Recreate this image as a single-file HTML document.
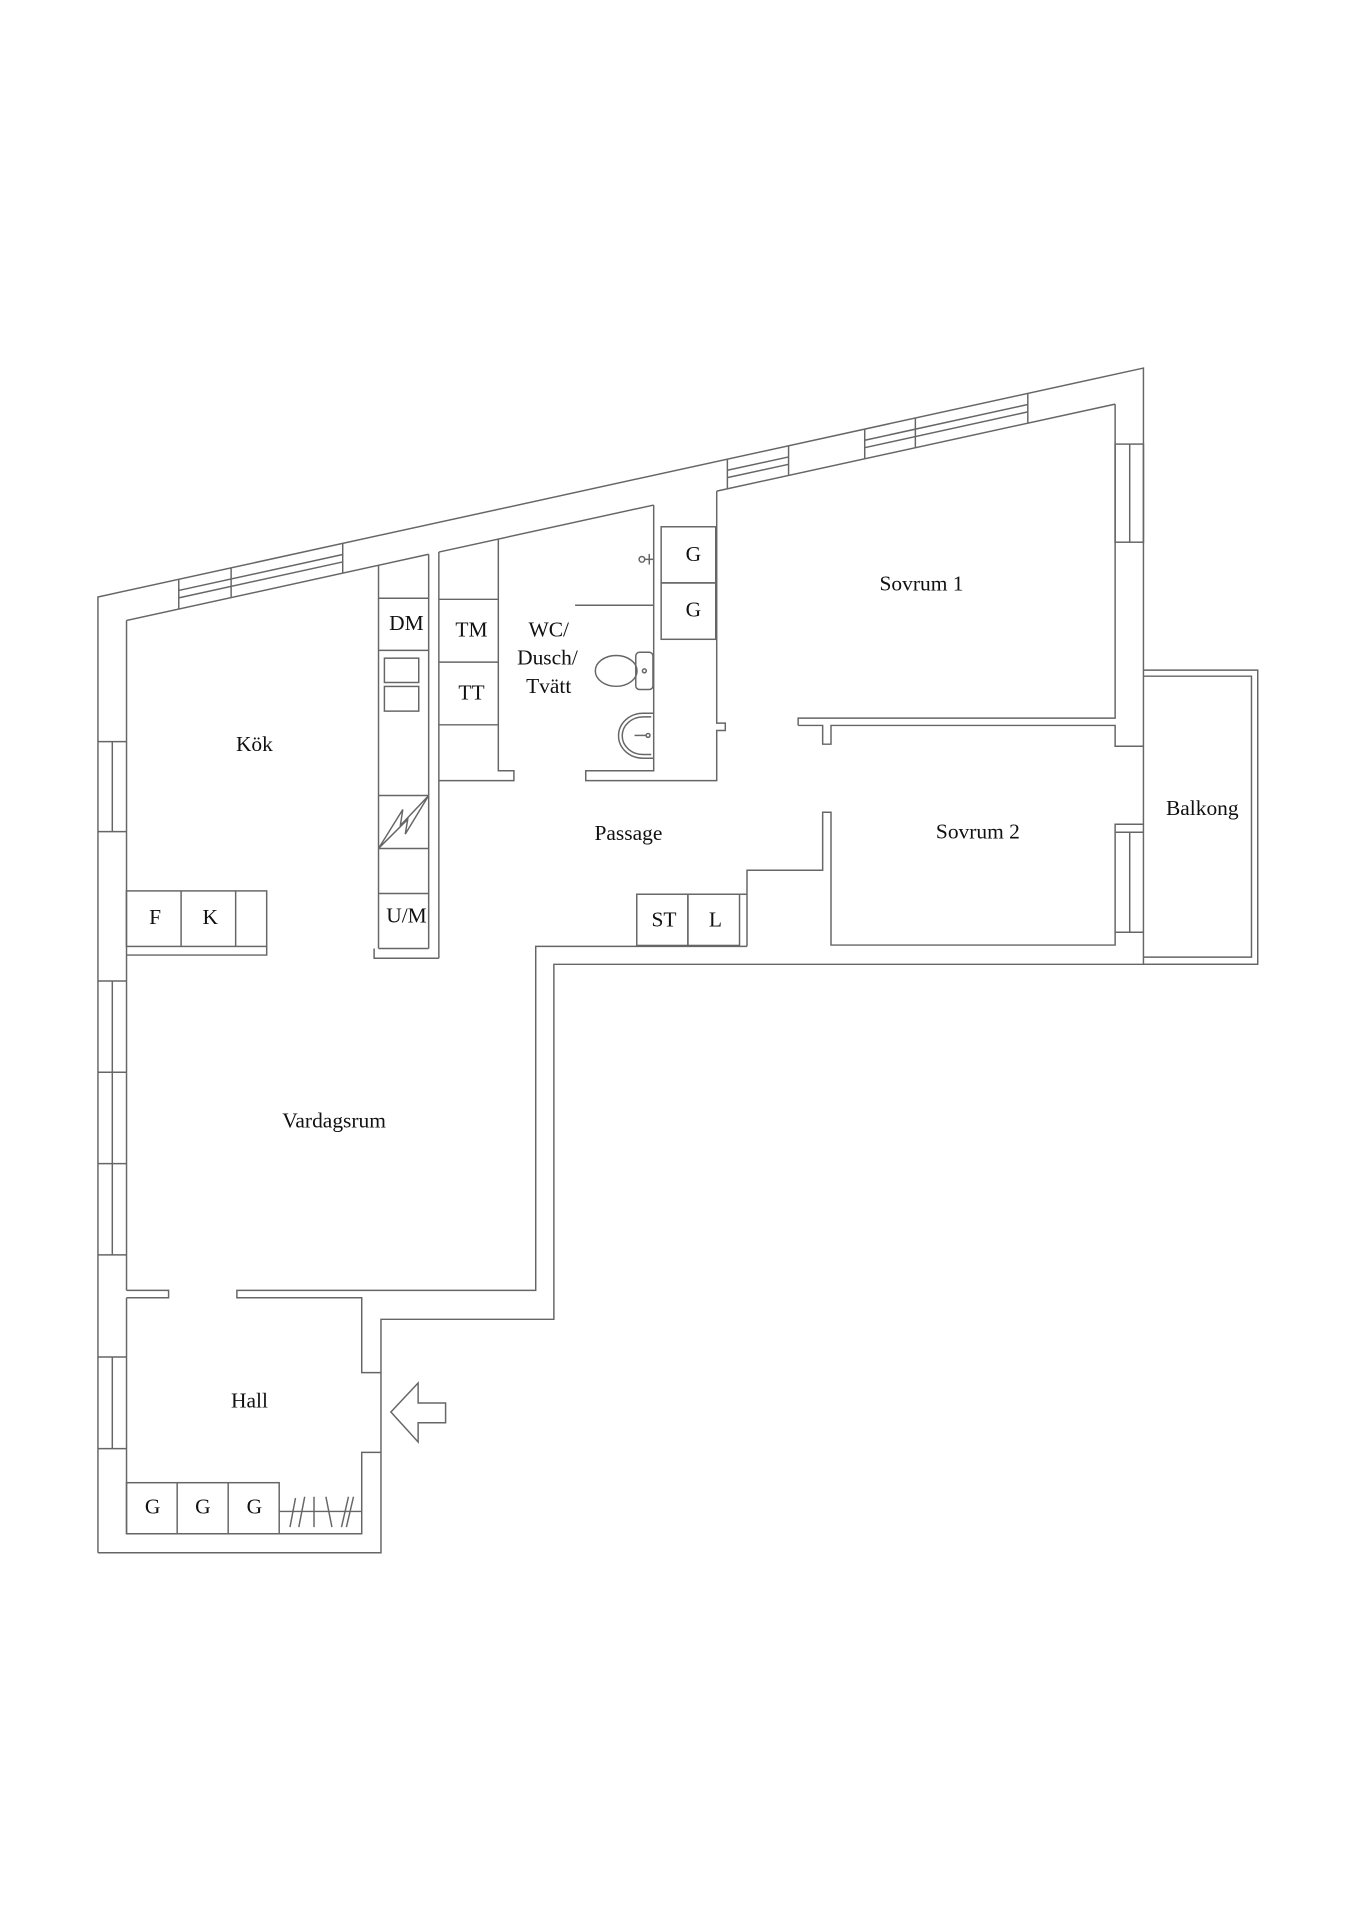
<!DOCTYPE html>
<html><head><meta charset="utf-8"><style>
html,body{margin:0;padding:0;background:#fff;}
svg{display:block;}
text{font-family:"Liberation Serif",serif;font-size:17.5px;fill:#111;text-anchor:middle;dominant-baseline:central;}
</style></head><body>
<svg width="1357" height="1920" viewBox="0 0 1100 1556" preserveAspectRatio="none" xmlns="http://www.w3.org/2000/svg">
<g transform="translate(80,0) scale(0.994,1) translate(-80,0)">
<g fill="none" stroke="#666" stroke-width="1.2">
<!-- outer walls -->
<polyline points="79.4,1258.4 79.4,483.8 932,298.3 932,781.5"/>
<polyline points="1025.2,781.5 451.2,781.5 451.2,1069.2 310.2,1069.2 310.2,1258.4 79.4,1258.4"/>
<!-- balcony -->
<polyline points="932,543.1 1025.2,543.1 1025.2,781.5 932,781.5"/>
<polyline points="932,548 1020.1,548 1020.1,775.7 932,775.7"/>
<!-- top inner lines -->
<line x1="102.6" y1="502.9" x2="349.1" y2="449.2"/>
<line x1="357.4" y1="447.4" x2="532.6" y2="409.3"/>
<line x1="584" y1="398" x2="908.9" y2="327.5"/>
<!-- top windows -->
<g>
<line x1="145.3" y1="469.5" x2="145.3" y2="493.6"/><line x1="188" y1="460.2" x2="188" y2="484.3"/><line x1="279" y1="440.4" x2="279" y2="464.5"/>
<line x1="145.3" y1="478.5" x2="279" y2="449.4"/><line x1="145.3" y1="484.5" x2="279" y2="455.4"/>
<line x1="592.7" y1="372.1" x2="592.7" y2="396.2"/><line x1="642.6" y1="361.3" x2="642.6" y2="385.4"/>
<line x1="592.7" y1="381.1" x2="642.6" y2="370.3"/><line x1="592.7" y1="387.1" x2="642.6" y2="376.3"/>
<line x1="704.7" y1="347.8" x2="704.7" y2="371.9"/><line x1="746" y1="338.8" x2="746" y2="362.9"/><line x1="837.7" y1="318.8" x2="837.7" y2="342.9"/>
<line x1="704.7" y1="356.8" x2="837.7" y2="327.8"/><line x1="704.7" y1="362.8" x2="837.7" y2="333.8"/>
</g>
<!-- left inner wall -->
<line x1="102.7" y1="502.9" x2="102.7" y2="1045.7"/>
<line x1="102.7" y1="1051.7" x2="102.7" y2="1243"/>
<!-- left windows -->
<g>
<line x1="79.4" y1="601" x2="102.7" y2="601"/><line x1="79.4" y1="674" x2="102.7" y2="674"/><line x1="91.1" y1="601" x2="91.1" y2="674"/>
<line x1="79.4" y1="795" x2="102.7" y2="795"/><line x1="79.4" y1="869" x2="102.7" y2="869"/><line x1="79.4" y1="943" x2="102.7" y2="943"/><line x1="79.4" y1="1017" x2="102.7" y2="1017"/><line x1="91.1" y1="795" x2="91.1" y2="1017"/>
<line x1="79.4" y1="1099.7" x2="102.7" y2="1099.7"/><line x1="79.4" y1="1174" x2="102.7" y2="1174"/><line x1="91.1" y1="1099.7" x2="91.1" y2="1174"/>
</g>
<!-- kitchen column -->
<line x1="308.2" y1="458.2" x2="308.2" y2="768.7"/>
<line x1="349.1" y1="449.2" x2="349.1" y2="768.7"/>
<line x1="308.2" y1="768.7" x2="349.1" y2="768.7"/>
<polyline points="304.6,768.7 304.6,776.6 357.4,776.6"/>
<line x1="308.2" y1="484.8" x2="349.1" y2="484.8"/><line x1="308.2" y1="527.1" x2="349.1" y2="527.1"/>
<line x1="308.2" y1="644.7" x2="349.1" y2="644.7"/><line x1="308.2" y1="687.6" x2="349.1" y2="687.6"/><line x1="308.2" y1="724.1" x2="349.1" y2="724.1"/>
<rect x="313" y="533.4" width="28" height="19.7"/><rect x="313" y="556.3" width="28" height="20"/>
<polyline points="308.2,687.6 328,656 326,669 349.1,644.7 330,676 332,664 308.2,687.6"/>
<!-- partition / TM column -->
<line x1="357.4" y1="447.4" x2="357.4" y2="776.6"/>
<polyline points="357.4,632.6 418.6,632.6 418.6,624.6 405.9,624.6 405.9,436.4"/>
<line x1="357.4" y1="485.7" x2="405.9" y2="485.7"/><line x1="357.4" y1="536.6" x2="405.9" y2="536.6"/><line x1="357.4" y1="587.4" x2="405.9" y2="587.4"/>
<!-- bathroom -->
<polyline points="532.6,409.3 532.6,624.6 477.2,624.6 477.2,632.6 584,632.6 584,592 591,592 591,586 584,586 584,398"/>
<line x1="468.5" y1="490.5" x2="532.6" y2="490.5"/>
<rect x="538.7" y="426.9" width="44.5" height="45.5"/><rect x="538.7" y="472.4" width="44.5" height="45.7"/>
<circle cx="523" cy="453.3" r="2.3"/><line x1="525.3" y1="453.3" x2="532.6" y2="453.3"/><line x1="529" y1="449" x2="529" y2="457.5"/>
<rect x="518" y="528.6" width="14" height="30.2" rx="3"/>
<ellipse cx="502" cy="543.7" rx="17" ry="12.5"/>
<circle cx="525" cy="543.7" r="1.6"/>
<path d="M532.6,578 L524,578 A20,18.2 0 0 0 524,614.5 L532.6,614.5"/>
<path d="M530.6,581 L524,581 A17,15.2 0 0 0 524,611.5 L530.6,611.5"/>
<circle cx="528" cy="596" r="1.6"/><line x1="517" y1="596" x2="526.4" y2="596"/>
<!-- sovrum walls -->
<polyline points="650.4,587.9 650.4,582 908.9,582 908.9,327.5"/>
<polyline points="650.4,587.9 670.4,587.9 670.4,603.1 677.2,603.1 677.2,587.9 908.9,587.9 908.9,604.8 932,604.8"/>
<rect x="908.9" y="359.9" width="23.1" height="79.5"/><line x1="920.8" y1="359.9" x2="920.8" y2="439.4"/>
<polyline points="932,668 908.9,668 908.9,765.9 677.2,765.9 677.2,658.3 670.4,658.3 670.4,705.3 608.7,705.3 608.7,767"/>
<line x1="908.9" y1="674.5" x2="932" y2="674.5"/><line x1="908.9" y1="755.5" x2="932" y2="755.5"/><line x1="920.8" y1="674.5" x2="920.8" y2="755.5"/>
<!-- ST L -->
<rect x="518.8" y="724.7" width="41.7" height="41.5"/><rect x="560.5" y="724.7" width="42.1" height="41.5"/>
<line x1="602.6" y1="724.7" x2="608.7" y2="724.7"/>
<!-- living inner -->
<polyline points="608.7,767 436.4,767 436.4,1045.7 192.7,1045.7 192.7,1051.7 294.5,1051.7 294.5,1112.4 310.2,1112.4"/>
<polyline points="102.7,1045.7 137,1045.7 137,1051.7 102.7,1051.7"/>
<polyline points="310.2,1177 294.5,1177 294.5,1243 102.7,1243"/>
<!-- F K counter -->
<rect x="102.6" y="722" width="114.4" height="45"/>
<line x1="147.2" y1="722" x2="147.2" y2="767"/><line x1="191.7" y1="722" x2="191.7" y2="767"/>
<polyline points="102.6,774 217,774 217,767"/>
<!-- hall closets -->
<rect x="102.7" y="1201.6" width="124.5" height="41.4"/>
<line x1="144" y1="1201.6" x2="144" y2="1243"/><line x1="185.6" y1="1201.6" x2="185.6" y2="1243"/>
<line x1="227.2" y1="1224.9" x2="294.5" y2="1224.9"/>
<line x1="236" y1="1237.6" x2="240.5" y2="1214"/><line x1="243.2" y1="1237.6" x2="248" y2="1213"/>
<line x1="255.6" y1="1213" x2="255.6" y2="1237.6"/><line x1="265.3" y1="1213" x2="270.2" y2="1237.6"/>
<line x1="278" y1="1237.6" x2="283.7" y2="1213"/><line x1="282" y1="1237.6" x2="287.8" y2="1213"/>
<!-- entry arrow -->
<polygon points="318.3,1144.3 340.5,1120.8 340.5,1137 362.9,1137 362.9,1153 340.5,1153 340.5,1168.6"/>
</g>
<text x="207" y="603">Kök</text>
<text x="331" y="505">DM</text>
<text x="384" y="510">TM</text>
<text x="384" y="561">TT</text>
<text x="447" y="510">WC/</text>
<text x="446" y="533">Dusch/</text>
<text x="447" y="556">Tvätt</text>
<text x="565" y="449">G</text>
<text x="565" y="494">G</text>
<text x="751" y="473">Sovrum 1</text>
<text x="512" y="675">Passage</text>
<text x="797" y="674">Sovrum 2</text>
<text x="980" y="655">Balkong</text>
<text x="126" y="743">F</text>
<text x="171" y="743">K</text>
<text x="331" y="742">U/M</text>
<text x="541" y="745">ST</text>
<text x="583" y="745">L</text>
<text x="272" y="908">Vardagsrum</text>
<text x="203" y="1135">Hall</text>
<text x="124" y="1221">G</text>
<text x="165" y="1221">G</text>
<text x="207" y="1221">G</text>
</g>
</svg>
</body></html>
